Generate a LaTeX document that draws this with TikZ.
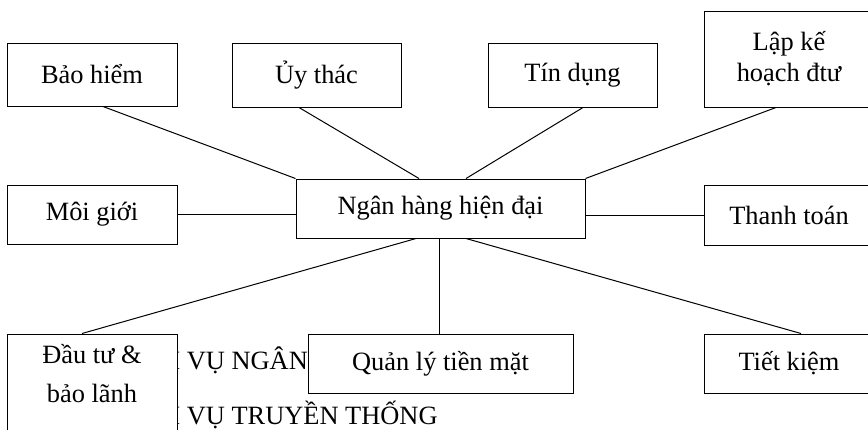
\documentclass[tikz,border=0pt]{standalone}
\usepackage{fontspec}
\setmainfont{Liberation Serif}
\begin{document}
\begin{tikzpicture}[x=1pt,y=-1pt,
  box/.style={draw=black,line width=1pt,fill=white,inner sep=0pt,align=center,
    font=\fontsize{26.4}{31}\selectfont},
  lbl/.style={inner sep=0pt,align=center,font=\fontsize{26.4}{39}\selectfont},
  bgtext/.style={inner sep=0pt,anchor=base west,font=\fontsize{26.4}{31}\selectfont},
  conn/.style={draw=black,line width=1pt}]
\useasboundingbox (0,0) rectangle (868,429);
\clip (0,0) rectangle (868,429);
\fill[white] (0,0) rectangle (868,429);
% background text partly covered by boxes
\node[bgtext] (t1) at (161,369) {H VỤ NGÂN};
\node[bgtext] (t2) at (161,424.5) {H VỤ TRUYỀN THỐNG};
% boxes
\node[box,minimum width=170,minimum height=63] (bao) at (92,74.5) {Bảo hiểm};
\node[box,minimum width=169,minimum height=64] (uy) at (316.5,75) {Ủy thác};
\node[box,minimum width=169,minimum height=64] (tin) at (572.5,75) {Tín dụng};
\node[box,minimum width=170,minimum height=96] (lap) at (789,59) {Lập kế\\hoạch đtư};
\node[box,minimum width=170,minimum height=59] (moi) at (92,214.5) {Môi giới};
\node[box,minimum width=289,minimum height=59] (ctr) at (440.5,208.5) {Ngân hàng hiện đại};
\node[box,minimum width=170,minimum height=60] (thanh) at (789,215) {Thanh toán};
\node[box,minimum width=170,minimum height=106] (dautu) at (92,387) {};
\node[lbl,anchor=north] (dautut) at ([yshift=-11pt]dautu.north) {Đầu tư \&\\bảo lãnh};
\node[box,minimum width=265,minimum height=59] (quan) at (440.5,363.5) {Quản lý tiền mặt};
\node[box,minimum width=170,minimum height=59] (tiet) at (789,363.5) {Tiết kiệm};
% connectors
\draw[conn] ([xshift=11pt]bao.south) -- (ctr.north west);
\draw[conn] ([xshift=-17.5pt]uy.south) -- ([xshift=-21.5pt]ctr.north);
\draw[conn] ([xshift=10.5pt]tin.south) -- ([xshift=25.5pt]ctr.north);
\draw[conn] ([xshift=-13pt]lap.south) -- (ctr.north east);
\draw[conn] (moi.east) -- (moi.east -| ctr.west);
\draw[conn] (ctr.east |- thanh.west) -- (thanh.west);
\draw[conn] ([xshift=-24.5pt]ctr.south) -- ([xshift=-10pt]dautu.north);
\draw[conn] ([xshift=-1.5pt]ctr.south) -- ([xshift=-1.5pt]quan.north);
\draw[conn] ([xshift=25.5pt]ctr.south) -- ([xshift=12pt]tiet.north);
\end{tikzpicture}
\end{document}
